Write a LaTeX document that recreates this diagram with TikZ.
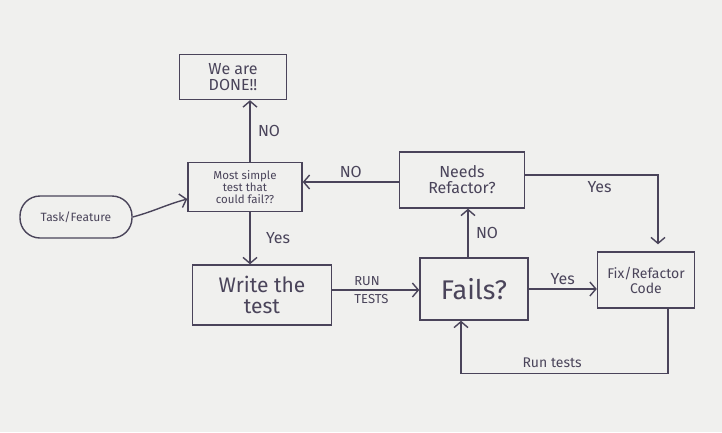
\documentclass[tikz,border=0pt]{standalone}
\usepackage{fontspec}
\setmainfont{Fira Sans}
\usetikzlibrary{shapes.geometric, arrows.meta, positioning}
\definecolor{ink}{RGB}{74,68,90}
\definecolor{paper}{RGB}{240,240,238}
\tikzstyle{block} = [rectangle, draw=ink, text=ink, line width=1.4pt,
    align=center, inner sep=2pt]
\tikzstyle{line} = [draw=ink, line width=1.4pt, -{Straight Barb[length=6pt,width=14pt]}]
\tikzstyle{lbl} = [text=ink, font=\fontsize{16}{16}\selectfont]

\begin{document}
\begin{tikzpicture}[x=1pt, y=1pt, node distance=100pt, auto]
    \fill [paper] (0,0) rectangle (722,-432);
    \useasboundingbox (0,0) rectangle (722,-432);

    \node [block, minimum width=114pt, minimum height=49pt,
        font=\fontsize{11.5}{12}\selectfont] (simple) at (245,-187)
        {Most simple\\test that\\could fail??};
    \node [block, above of=simple, node distance=110pt, xshift=-12pt,
        minimum width=107pt, minimum height=45pt,
        font=\fontsize{16}{16}\selectfont] (done) {We are\\DONE!!};
    \node [block, below of=simple, node distance=108pt, xshift=17pt,
        minimum width=139pt, minimum height=60pt,
        font=\fontsize{21}{21}\selectfont] (write) {Write the\\test};
    \node [block, right of=write, node distance=212pt, yshift=6pt,
        minimum width=108pt, minimum height=62pt,
        font=\fontsize{27}{28}\selectfont] (fails) {Fails?};
    \node [block, above of=fails, node distance=109pt, xshift=-12pt,
        minimum width=125pt, minimum height=56pt,
        font=\fontsize{16}{16}\selectfont] (refactor) {Needs\\Refactor?};
    \node [block, right of=fails, node distance=172pt, yshift=9pt,
        minimum width=97pt, minimum height=56pt,
        font=\fontsize{14}{15}\selectfont] (fix) {Fix/Refactor\\Code};
    \node [block, rounded corners=20pt, left of=simple, node distance=169pt,
        yshift=-30pt, minimum width=112pt, minimum height=42pt,
        font=\fontsize{12}{12}\selectfont] (task) {Task/Feature};

    \path [line] (task.east) to [out=15, in=195] ([yshift=-12pt]simple.west);
    \path [line] ([xshift=5pt]simple.north) -- ([xshift=5pt]simple.north |- done.south)
        node [lbl, midway, right=4pt] {NO};
    \path [line] ([xshift=5pt]simple.south) -- ([xshift=5pt]simple.south |- write.north)
        node [lbl, midway, right=12pt] {Yes};
    \path [line] ([yshift=5pt]write.east) -- ([yshift=5pt]write.east -| fails.west)
        node [lbl, pos=0.4, above, font=\fontsize{13}{13}\selectfont] {RUN}
        node [lbl, pos=0.45, below, font=\fontsize{13}{13}\selectfont] {TESTS};
    \path [line] ([xshift=-6pt]fails.north) -- ([xshift=-6pt]fails.north |- refactor.south)
        node [lbl, midway, right=4pt] {NO};
    \path [line] ([yshift=-2pt]refactor.west) -- ([yshift=-2pt]refactor.west -| simple.east)
        node [lbl, midway, above] {NO};
    \path [line, shorten >=7pt] ([yshift=5pt]refactor.east) -| ([xshift=12pt]fix.north)
        node [lbl, pos=0.28, below=2pt] {Yes};
    \path [line] (fails.east) -- (fails.east -| fix.west)
        node [lbl, midway, above] {Yes};
    \path [line] ([xshift=22pt]fix.south) -- ++(0,-65) -| ([xshift=-13pt]fails.south)
        node [lbl, pos=0.28, above=2pt, font=\fontsize{14}{14}\selectfont] {Run tests};

\end{tikzpicture}
\end{document}
